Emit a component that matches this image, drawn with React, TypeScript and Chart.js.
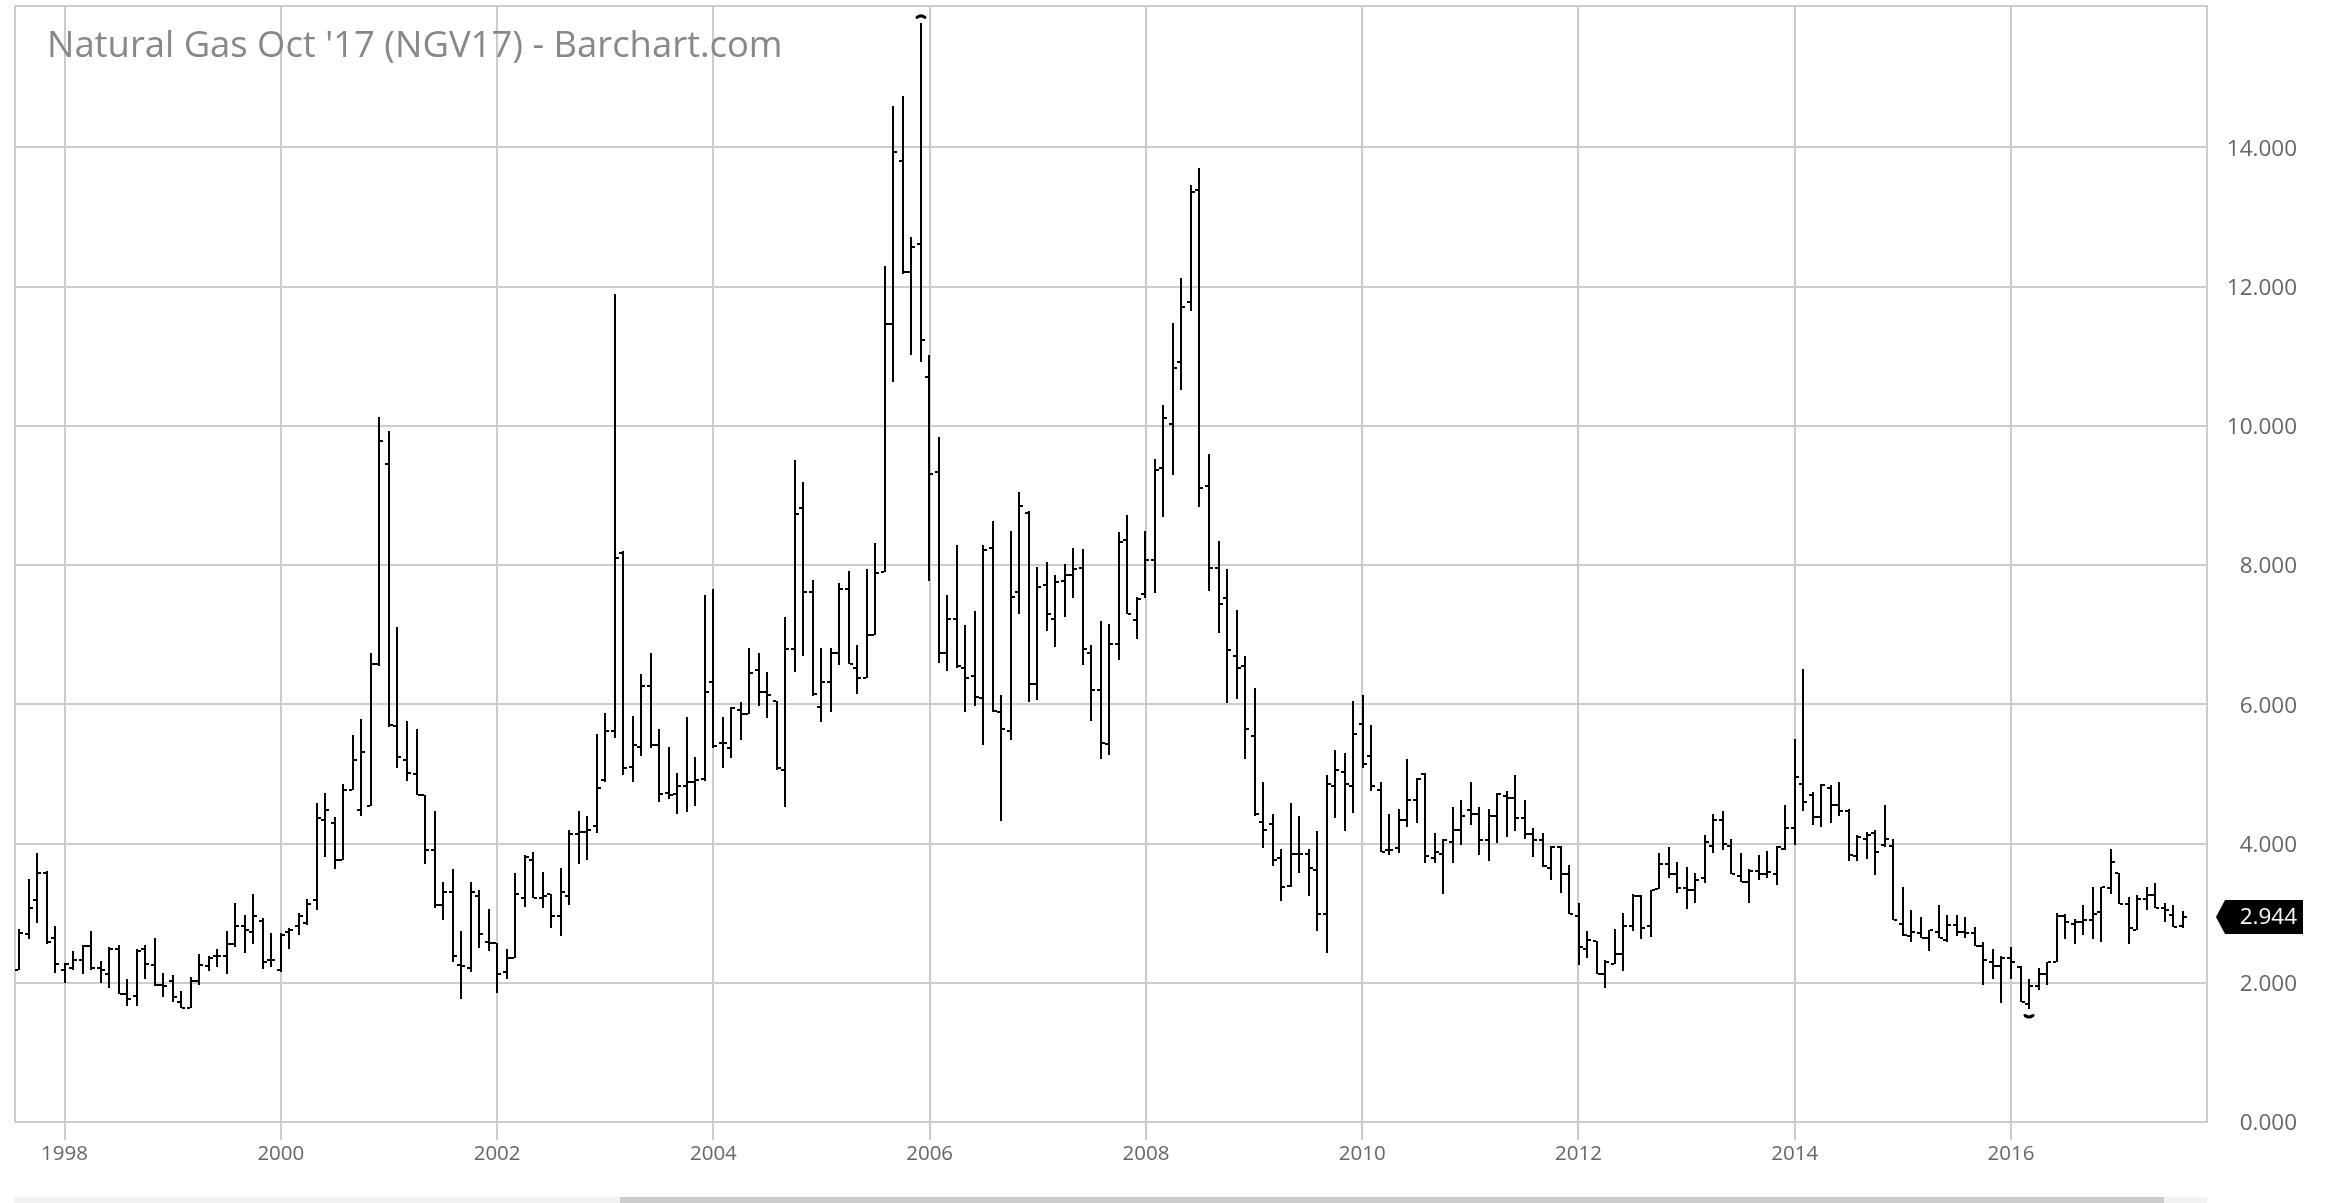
import { useEffect, useRef } from "react";
import { BarController, Chart, Plugin, registerables } from "chart.js";

// monthly bars, Aug 1997 to Aug 2017
const opens = [
  2.18, 2.70, 3.19, 3.57, 2.65, 2.18, 2.21, 2.33, 2.53, 2.21,
  2.13, 2.48, 1.84, 1.81, 2.48, 2.25, 1.97, 2.02, 1.73, 1.64,
  2.02, 2.24, 2.39, 2.39, 2.56, 2.82, 2.73, 2.88, 2.33, 2.18,
  2.73, 2.82, 2.86, 3.19, 4.34, 4.29, 3.77, 4.77, 4.48, 4.54,
  6.58, 9.45, 5.69, 5.20, 5.00, 4.69, 3.91, 3.11, 3.31, 2.26,
  2.21, 3.25, 2.59, 2.57, 2.15, 2.36, 3.22, 3.77, 3.22, 3.27,
  2.96, 3.25, 4.13, 4.16, 4.25, 4.91, 5.61, 8.18, 5.10, 5.38,
  6.26, 5.41, 4.73, 4.71, 4.82, 4.89, 4.92, 6.32, 5.45, 5.37,
  5.92, 5.86, 6.49, 6.17, 6.04, 5.06, 6.79, 8.82, 7.61, 5.96,
  6.32, 6.73, 7.65, 6.52, 6.38, 6.99, 7.90, 11.46, 13.80, 12.21,
  12.61, 10.70, 9.34, 6.73, 7.22, 6.52, 6.41, 6.09, 8.25, 5.89,
  5.61, 7.61, 8.75, 6.29, 7.71, 7.22, 7.77, 7.86, 7.96, 6.73,
  6.21, 5.43, 6.87, 8.36, 7.21, 7.59, 8.07, 9.39, 10.03, 10.92,
  11.78, 13.39, 9.14, 7.96, 7.53, 6.69, 6.55, 5.54, 4.31, 4.28,
  3.79, 3.39, 3.85, 3.85, 3.62, 2.99, 4.83, 5.03, 4.83, 5.72,
  5.26, 4.77, 3.90, 3.94, 4.34, 4.63, 5.00, 3.79, 3.85, 4.02,
  4.19, 4.48, 4.42, 4.05, 4.40, 4.68, 4.65, 4.37, 4.14, 4.05,
  3.65, 3.95, 3.56, 2.96, 2.48, 2.60, 2.13, 2.27, 2.42, 2.82,
  3.25, 2.82, 3.34, 3.71, 3.56, 3.36, 3.33, 3.50, 3.96, 4.34,
  3.97, 3.53, 3.45, 3.60, 3.56, 3.56, 3.92, 4.23, 4.86, 4.70,
  4.38, 4.80, 4.55, 4.46, 3.82, 4.07, 4.15, 3.98, 3.97, 2.84,
  2.67, 2.71, 2.64, 2.73, 2.61, 2.83, 2.73, 2.72, 2.53, 2.30,
  2.24, 2.36, 2.23, 1.69, 1.95, 2.13, 2.30, 2.96, 2.84, 2.87,
  2.90, 3.01, 3.36, 3.57, 3.13, 2.76, 3.21, 3.26, 3.08, 2.97, 2.82,
];
const highs = [
  2.77, 3.49, 3.86, 3.60, 2.82, 2.28, 2.45, 2.54, 2.74, 2.31,
  2.51, 2.54, 2.05, 2.48, 2.54, 2.65, 2.14, 2.11, 1.88, 2.08,
  2.42, 2.38, 2.48, 2.74, 3.14, 2.97, 3.28, 2.93, 2.71, 2.71,
  2.78, 3.00, 3.20, 4.58, 4.72, 4.38, 4.86, 5.56, 5.79, 6.74,
  10.12, 9.93, 7.11, 5.76, 5.64, 4.70, 4.46, 3.45, 3.63, 2.74,
  3.45, 3.33, 3.06, 2.57, 2.48, 3.58, 3.83, 3.88, 3.59, 3.28,
  3.65, 4.20, 4.46, 4.40, 5.58, 5.87, 11.90, 8.20, 5.83, 6.44,
  6.74, 5.64, 5.38, 5.01, 5.82, 5.24, 7.57, 7.65, 5.82, 5.96,
  6.03, 6.81, 6.73, 6.46, 6.05, 7.26, 9.51, 9.20, 7.79, 6.81,
  6.81, 7.74, 7.92, 6.85, 7.94, 8.31, 12.30, 14.60, 14.74, 12.71,
  15.78, 11.02, 9.84, 7.57, 8.29, 7.14, 7.34, 8.29, 8.63, 6.13,
  8.49, 9.05, 8.77, 7.97, 8.05, 7.85, 8.02, 8.25, 8.23, 6.85,
  7.19, 7.16, 8.48, 8.72, 7.54, 8.49, 9.52, 10.30, 11.47, 12.13,
  13.46, 13.71, 9.60, 8.34, 7.94, 7.36, 6.70, 6.24, 4.89, 4.43,
  3.92, 4.58, 4.40, 3.92, 4.18, 4.98, 5.35, 5.30, 6.04, 6.13,
  5.70, 4.89, 4.43, 4.49, 5.21, 4.94, 5.01, 4.15, 4.06, 4.52,
  4.63, 4.89, 4.52, 4.49, 4.72, 4.75, 4.98, 4.63, 4.23, 4.15,
  3.97, 3.97, 3.69, 3.14, 2.74, 2.60, 2.33, 2.77, 3.00, 3.27,
  3.26, 3.33, 3.86, 3.95, 3.74, 3.66, 3.57, 4.12, 4.43, 4.46,
  4.06, 3.86, 3.64, 3.83, 3.89, 3.97, 4.55, 5.50, 6.50, 4.74,
  4.86, 4.84, 4.89, 4.49, 4.12, 4.17, 4.20, 4.55, 4.06, 3.37,
  3.05, 2.94, 2.76, 3.11, 2.97, 2.97, 2.94, 2.80, 2.59, 2.48,
  2.39, 2.51, 2.24, 2.05, 2.21, 2.30, 3.00, 2.99, 2.91, 3.11,
  3.37, 3.37, 3.92, 3.57, 3.23, 3.26, 3.37, 3.43, 3.14, 3.11, 3.03,
];
const lows = [
  2.18, 2.63, 2.86, 2.55, 2.14, 2.00, 2.18, 2.12, 2.18, 2.00,
  1.92, 1.84, 1.66, 1.66, 2.06, 1.95, 1.80, 1.72, 1.64, 1.64,
  1.97, 2.17, 2.23, 2.12, 2.52, 2.43, 2.55, 2.20, 2.23, 2.15,
  2.49, 2.69, 2.83, 3.04, 3.81, 3.64, 3.77, 4.77, 4.39, 4.54,
  6.55, 5.68, 5.08, 4.90, 4.70, 3.70, 3.08, 2.90, 2.30, 1.77,
  2.15, 2.50, 2.46, 1.86, 2.06, 2.36, 3.09, 3.22, 3.07, 2.78,
  2.67, 3.12, 3.70, 3.76, 4.15, 4.88, 5.51, 4.99, 4.88, 5.25,
  5.37, 4.60, 4.64, 4.42, 4.45, 4.54, 4.90, 5.37, 5.08, 5.23,
  5.49, 5.86, 5.97, 5.80, 5.06, 4.53, 6.46, 6.70, 6.12, 5.74,
  5.89, 6.57, 6.58, 6.15, 6.38, 6.99, 7.90, 10.63, 12.18, 11.02,
  10.91, 7.77, 6.60, 6.48, 6.52, 5.89, 5.97, 5.42, 5.89, 4.33,
  5.48, 7.29, 6.03, 6.06, 7.05, 6.82, 7.26, 7.52, 6.57, 5.76,
  5.22, 5.27, 6.64, 7.30, 6.94, 7.52, 7.60, 8.69, 9.30, 10.51,
  11.65, 8.84, 7.63, 7.03, 6.02, 6.08, 5.22, 4.40, 3.93, 3.67,
  3.18, 3.38, 3.58, 3.24, 2.75, 2.43, 4.36, 4.18, 4.44, 5.08,
  4.76, 3.88, 3.84, 3.87, 4.24, 4.30, 3.72, 3.72, 3.27, 3.72,
  3.98, 4.27, 3.84, 3.75, 4.01, 4.10, 4.18, 4.07, 3.81, 3.66,
  3.47, 3.29, 2.99, 2.26, 2.35, 2.13, 1.92, 2.27, 2.17, 2.75,
  2.63, 2.66, 3.34, 3.50, 3.29, 3.06, 3.15, 3.44, 3.87, 3.91,
  3.56, 3.45, 3.15, 3.48, 3.50, 3.41, 3.90, 3.98, 4.47, 4.27,
  4.24, 4.30, 4.39, 3.75, 3.75, 3.78, 3.55, 3.95, 2.90, 2.67,
  2.58, 2.64, 2.46, 2.64, 2.59, 2.67, 2.64, 2.53, 1.97, 2.06,
  1.71, 2.06, 1.72, 1.63, 1.89, 1.97, 2.30, 2.63, 2.55, 2.69,
  2.63, 2.58, 3.27, 3.13, 2.56, 2.76, 3.05, 3.08, 2.87, 2.80, 2.78,
];
const closes = [
  2.71, 3.08, 3.57, 2.58, 2.27, 2.27, 2.33, 2.53, 2.21, 2.18,
  2.48, 1.84, 1.76, 2.46, 2.27, 1.97, 1.95, 1.79, 1.64, 2.02,
  2.25, 2.36, 2.39, 2.56, 2.82, 2.76, 2.96, 2.30, 2.33, 2.69,
  2.76, 2.96, 3.13, 4.37, 4.48, 3.77, 4.77, 5.20, 5.32, 6.58,
  9.78, 5.70, 5.24, 5.02, 4.70, 3.91, 3.11, 3.31, 2.39, 2.24,
  3.31, 2.70, 2.57, 2.12, 2.36, 3.27, 3.80, 3.22, 3.25, 2.96,
  3.31, 4.14, 4.16, 4.19, 4.80, 5.61, 8.10, 5.08, 5.42, 6.26,
  5.41, 4.71, 4.70, 4.82, 4.88, 4.91, 6.18, 5.40, 5.45, 5.95,
  5.86, 6.45, 6.17, 6.13, 5.08, 6.80, 8.73, 7.61, 6.15, 6.32,
  6.73, 7.65, 6.58, 6.38, 6.99, 7.88, 11.46, 13.93, 12.21, 12.57,
  11.23, 9.31, 6.73, 7.22, 6.55, 6.38, 6.10, 8.22, 5.90, 5.64,
  7.54, 8.85, 6.29, 7.68, 7.30, 7.75, 7.86, 7.94, 6.79, 6.21,
  5.45, 6.87, 8.33, 7.30, 7.51, 8.07, 9.37, 10.11, 10.83, 11.70,
  13.36, 9.11, 7.96, 7.44, 6.78, 6.52, 5.64, 4.42, 4.19, 3.77,
  3.37, 3.85, 3.85, 3.65, 2.99, 4.85, 5.06, 4.86, 5.57, 5.14,
  4.83, 3.88, 3.91, 4.34, 4.63, 4.92, 3.82, 3.88, 4.05, 4.19,
  4.40, 4.42, 4.05, 4.40, 4.71, 4.65, 4.37, 4.14, 4.05, 3.68,
  3.95, 3.56, 2.99, 2.51, 2.62, 2.13, 2.30, 2.41, 2.82, 3.25,
  2.79, 3.33, 3.71, 3.56, 3.36, 3.33, 3.48, 4.02, 4.34, 3.99,
  3.56, 3.45, 3.60, 3.56, 3.59, 3.95, 4.23, 4.95, 4.60, 4.38,
  4.84, 4.55, 4.46, 3.84, 4.09, 4.12, 3.88, 4.07, 2.90, 2.69,
  2.73, 2.65, 2.76, 2.65, 2.83, 2.73, 2.72, 2.53, 2.33, 2.24,
  2.36, 2.30, 1.72, 1.95, 2.13, 2.30, 2.96, 2.87, 2.87, 2.90,
  2.99, 3.37, 3.74, 3.13, 2.78, 3.20, 3.26, 3.08, 3.05, 2.80, 2.94,
];

const yearLabels = ["1998", "2000", "2002", "2004", "2006", "2008", "2010", "2012", "2014", "2016"];
const yearBars = [5, 29, 53, 77, 101, 125, 149, 173, 197, 221]; // bar index of each January
const priceTicks = [0, 2, 4, 6, 8, 10, 12, 14];
const lastPrice = 2.944;
const title = "Natural Gas Oct '17 (NGV17) - Barchart.com";

const FONT = '"Open Sans", sans-serif';
const GRID = "#cccccc";

// the page snaps bars to odd pixel columns, so keep them crisp here too
const snap = (px: number) => 2 * Math.round((px - 1) / 2) + 1;

class OhlcController extends BarController {
  static id = "ohlc";
  static defaults = BarController.defaults;
  static overrides = BarController.overrides;

  draw() {
    const { xScale, yScale } = this.getMeta();
    const ctx = this.chart.ctx;
    ctx.save();
    ctx.fillStyle = "#000";
    this.getDataset().data.forEach((d: any) => {
      const x = snap(xScale!.getPixelForValue(d.x));
      const top = Math.round(yScale!.getPixelForValue(d.y[1]));
      const bottom = Math.round(yScale!.getPixelForValue(d.y[0]));
      ctx.fillRect(x - 1, top, 2, bottom - top);
      ctx.fillRect(x - 4, Math.round(yScale!.getPixelForValue(d.open)) - 1, 3, 2);
      ctx.fillRect(x + 1, Math.round(yScale!.getPixelForValue(d.close)) - 1, 3, 2);
    });
    ctx.restore();
  }
}

Chart.register(...registerables, OhlcController);

// plot frame, title, high/low arcs and the last price flag
const decorations: Plugin = {
  id: "decorations",
  beforeDatasetsDraw(chart) {
    const { ctx, chartArea: a } = chart;
    ctx.save();
    ctx.strokeStyle = GRID;
    ctx.lineWidth = 2;
    ctx.strokeRect(a.left, a.top, a.right - a.left, a.bottom - a.top);
    ctx.fillStyle = "#888888";
    ctx.font = `36.4px ${FONT}`;
    ctx.textBaseline = "alphabetic";
    ctx.fillText(title, 47, 57);
    ctx.restore();
  },
  afterDatasetsDraw(chart) {
    const { ctx, scales } = chart;
    const { x, y } = scales;
    ctx.save();

    ctx.strokeStyle = "#000";
    ctx.lineWidth = 3;
    ctx.lineCap = "round";
    const maxHigh = Math.max(...highs);
    const minLow = Math.min(...lows);
    const hx = snap(x.getPixelForValue(highs.indexOf(maxHigh)));
    const hy = y.getPixelForValue(maxHigh) - 7;
    ctx.beginPath();
    ctx.moveTo(hx - 4, hy + 1);
    ctx.quadraticCurveTo(hx, hy - 2, hx + 4, hy + 1);
    ctx.stroke();
    const lx = snap(x.getPixelForValue(lows.indexOf(minLow)));
    const ly = y.getPixelForValue(minLow) + 8;
    ctx.beginPath();
    ctx.moveTo(lx - 4, ly - 1);
    ctx.quadraticCurveTo(lx, ly + 2, lx + 4, ly - 1);
    ctx.stroke();

    const py = y.getPixelForValue(lastPrice);
    ctx.fillStyle = "#000";
    ctx.beginPath();
    ctx.moveTo(2216, py);
    ctx.lineTo(2225, py - 17);
    ctx.lineTo(2303, py - 17);
    ctx.lineTo(2303, py + 17);
    ctx.lineTo(2225, py + 17);
    ctx.closePath();
    ctx.fill();
    ctx.fillStyle = "#fff";
    ctx.font = `22.5px ${FONT}`;
    ctx.textAlign = "right";
    ctx.textBaseline = "middle";
    ctx.fillText(lastPrice.toFixed(3), 2297, py + 1);
    ctx.restore();
  },
};

export default function App() {
  const canvasRef = useRef<HTMLCanvasElement>(null);

  useEffect(() => {
    if (!canvasRef.current) return;

    const chart = new Chart(canvasRef.current, {
      type: "ohlc" as any,
      data: {
        datasets: [{
          label: "NGV17",
          barThickness: 2,
          data: highs.map((h, i) => ({ x: i, y: [lows[i], h], open: opens[i], close: closes[i] })),
        }],
      } as any,
      options: {
        responsive: false,
        animation: false,
        devicePixelRatio: 1,
        layout: { autoPadding: false, padding: { left: 15, top: 6, right: 35, bottom: 0 } },
        plugins: { legend: { display: false }, tooltip: { enabled: false } },
        scales: {
          x: {
            type: "linear",
            offset: false,
            min: -0.5,
            max: 242.75,
            afterFit: (s: any) => {
              s.height = 81;
              s.paddingLeft = 0;
              s.paddingRight = 0;
            },
            afterBuildTicks: (s: any) => { s.ticks = yearBars.map((value) => ({ value })); },
            grid: { color: GRID, lineWidth: 2, offset: false, tickColor: GRID, tickLength: 18, tickWidth: 2 },
            border: { display: false },
            ticks: {
              autoSkip: false,
              maxRotation: 0,
              padding: 2,
              color: "#666666",
              font: { family: FONT, size: 20.5 },
              callback: (v: any) => yearLabels[yearBars.indexOf(v)],
            },
          },
          y: {
            type: "linear",
            position: "right",
            min: 0,
            max: 16.03,
            afterFit: (s: any) => {
              s.width = 90;
              s.paddingTop = 0;
              s.paddingBottom = 0;
            },
            afterBuildTicks: (s: any) => { s.ticks = priceTicks.map((value) => ({ value })); },
            grid: { color: GRID, lineWidth: 2, drawTicks: false },
            border: { display: false },
            ticks: {
              crossAlign: "far",
              padding: 20,
              labelOffset: 2,
              color: "#666666",
              font: { family: FONT, size: 22.5 },
              callback: (v: any) => Number(v).toFixed(3),
            },
          },
        },
      },
      plugins: [decorations],
    });

    return () => chart.destroy();
  }, []);

  return (
    <div style={{ position: "absolute", left: 0, top: 0, width: 2332, height: 1203, overflow: "hidden", background: "#fff" }}>
      <canvas ref={canvasRef} width={2332} height={1203} style={{ display: "block" }} />
      <div style={{ position: "absolute", left: 14, top: 1197, width: 2193, height: 6, background: "#f2f2f2" }} />
      <div style={{ position: "absolute", left: 620, top: 1197, width: 1544, height: 6, background: "#cccccc" }} />
    </div>
  );
}
